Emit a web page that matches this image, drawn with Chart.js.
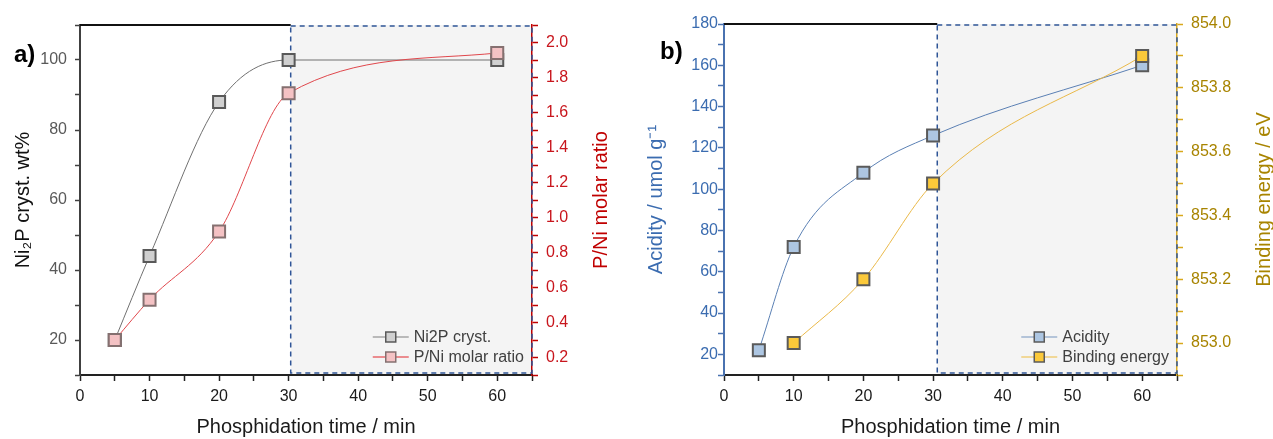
<!DOCTYPE html>
<html>
<head>
<meta charset="utf-8">
<script src="https://cdn.jsdelivr.net/npm/chart.js@4.4.1/dist/chart.umd.min.js"></script>
<style>
  html, body { margin: 0; padding: 0; background: #fff; }
  #wrap { position: relative; width: 1273px; height: 439px; }
  .box { position: absolute; top: 0; height: 439px; }
  #boxA { left: 0; width: 636px; }
  #boxB { left: 636px; width: 637px; }
</style>
</head>
<body>
<div id="wrap">
  <div class="box" id="boxA"><canvas id="chartA"></canvas></div>
  <div class="box" id="boxB"><canvas id="chartB"></canvas></div>
</div>
<script>
// panel a)
const ni2pTime = [5, 10, 20, 30, 60];
const ni2pCryst = [20, 44, 88, 100, 100];
const pniTime = [5, 10, 20, 30, 60];
const pniRatio = [0.30, 0.53, 0.92, 1.71, 1.94];

// panel b)
const acidTime = [5, 10, 20, 30, 60];
const acidity = [22, 72, 108, 126, 160];
const beTime = [10, 20, 30, 60];
const bindingEnergy = [853.0, 853.2, 853.5, 853.9];

const xTickLabels = [0, 10, 20, 30, 40, 50, 60];

const FONT = '"Liberation Sans", Arial, sans-serif';
const toPts = (xs, ys) => xs.map((x, i) => ({ x: x, y: ys[i] }));

// shaded region, frame, legend, panel letter, right-hand axis title
const decoPlugin = {
    id: 'deco',
    beforeDraw(chart, args, o) {
        const { ctx, chartArea: a } = chart;
        const x0 = chart.scales.x.getPixelForValue(o.from);
        ctx.save();
        ctx.fillStyle = '#f4f4f4';
        ctx.fillRect(x0, a.top, a.right - x0, a.bottom - a.top);
        ctx.restore();
    },
    beforeDatasetsDraw(chart, args, o) {
        const { ctx, chartArea: a } = chart;
        const x0 = chart.scales.x.getPixelForValue(o.from);
        ctx.save();
        ctx.strokeStyle = '#111';
        ctx.lineWidth = 2;
        ctx.beginPath();
        ctx.moveTo(a.left, a.top);
        ctx.lineTo(x0, a.top);
        ctx.stroke();
        ctx.strokeStyle = '#2f5597';
        ctx.lineWidth = 1.5;
        ctx.setLineDash([5, 4]);
        ctx.strokeRect(x0, a.top + 1, a.right - x0, a.bottom - a.top - 3);
        ctx.restore();
    },
    afterDraw(chart, args, o) {
        const { ctx, chartArea: a } = chart;
        ctx.save();
        // panel letter
        ctx.fillStyle = '#000';
        ctx.font = 'bold 24px ' + FONT;
        ctx.textAlign = 'left';
        ctx.textBaseline = 'middle';
        ctx.fillText(o.letter, o.letterX, o.letterY);

        // right axis title, reading bottom to top
        ctx.translate(o.titleX, (a.top + a.bottom) / 2);
        ctx.rotate(-Math.PI / 2);
        ctx.textAlign = 'center';
        ctx.fillStyle = o.titleColor;
        ctx.font = '20px ' + FONT;
        ctx.fillText(o.title, 0, 0);
        ctx.restore();

        // legend
        ctx.save();
        ctx.font = '16px ' + FONT;
        const sets = chart.data.datasets;
        const w = Math.max(...sets.map(d => ctx.measureText(d.label).width));
        const tx = a.right - 8 - w;
        sets.forEach((d, i) => {
            const y = a.bottom - 38 + i * 20;
            ctx.strokeStyle = d.legendLine;
            ctx.lineWidth = 1.5;
            ctx.beginPath();
            ctx.moveTo(tx - 41, y);
            ctx.lineTo(tx - 5, y);
            ctx.stroke();
            ctx.fillStyle = d.pointBackgroundColor;
            ctx.fillRect(tx - 28, y - 5, 10, 10);
            ctx.strokeStyle = d.pointBorderColor;
            ctx.strokeRect(tx - 28, y - 5, 10, 10);
            ctx.fillStyle = '#404040';
            ctx.textAlign = 'left';
            ctx.textBaseline = 'middle';
            ctx.fillText(d.label, tx, y + 1);
        });
        ctx.restore();
    }
};

function xScale() {
    return {
        type: 'linear', min: 0, max: 65,
        ticks: {
            stepSize: 5, autoSkip: false, maxRotation: 0, padding: 6, color: '#1a1a1a',
            font: { size: 16, family: FONT },
            callback: v => xTickLabels.includes(v) ? String(v) : ''
        },
        grid: { drawOnChartArea: false, tickLength: 6, color: '#222', tickWidth: 1.5 },
        border: { color: '#222', width: 2 },
        title: { display: true, text: 'Phosphidation time / min', color: '#1a1a1a', font: { size: 20, family: FONT }, padding: 0 },
        afterFit: s => { s.height = 64; }
    };
}

function evenTenths(v) {
    const k = Math.round(v * 10);
    return k % 2 === 0 ? (k / 10).toFixed(1) : '';
}

const pointBase = { pointStyle: 'rect', pointRadius: 8.5, pointHoverRadius: 8.5, pointBorderWidth: 2, borderWidth: 1, cubicInterpolationMode: 'monotone' };

new Chart(document.getElementById('chartA'), {
    type: 'line',
    data: {
        datasets: [
            Object.assign({
                label: 'Ni2P cryst.', data: toPts(ni2pTime, ni2pCryst), yAxisID: 'y', order: 1,
                borderColor: '#707070', pointBackgroundColor: '#d0d0d0', pointBorderColor: '#595959', legendLine: '#a6a6a6'
            }, pointBase),
            Object.assign({
                label: 'P/Ni molar ratio', data: toPts(pniTime, pniRatio), yAxisID: 'y1', order: 0,
                borderColor: '#e0474c', pointBackgroundColor: '#f4c2c4', pointBorderColor: '#857070', legendLine: '#e86a6e'
            }, pointBase)
        ]
    },
    options: {
        responsive: true, maintainAspectRatio: false, animation: false,
        layout: { padding: { top: 25, left: 0, right: 0, bottom: 0 } },
        plugins: {
            legend: { display: false }, tooltip: { enabled: false },
            deco: { from: 30.3, letter: 'a)', letterX: 14, letterY: 55, title: 'P/Ni molar ratio', titleColor: '#c00000', titleX: 601 }
        },
        scales: {
            x: xScale(),
            y: {
                type: 'linear', position: 'left', min: 10, max: 110,
                ticks: { stepSize: 10, autoSkip: false, padding: 8, color: '#595959', font: { size: 16, family: FONT }, callback: v => v % 20 === 0 && v <= 100 ? String(v) : '' },
                grid: { drawOnChartArea: false, tickLength: 5, color: '#404040', tickWidth: 1.5 },
                border: { color: '#404040', width: 2 },
                title: { display: true, text: 'Ni₂P cryst. wt%', color: '#111', font: { size: 20, family: FONT }, padding: { top: 11, bottom: 0 } },
                afterFit: s => { s.width = 80; }
            },
            y1: {
                type: 'linear', position: 'right', min: 0.1, max: 2.1,
                ticks: { stepSize: 0.1, autoSkip: false, padding: 8, color: '#c8161d', font: { size: 16, family: FONT }, callback: evenTenths },
                grid: { drawOnChartArea: false, tickLength: 6, color: '#c00000', tickWidth: 1.5 },
                border: { color: '#c00000', width: 1.5 },
                afterFit: s => { s.width = 104; }
            }
        }
    },
    plugins: [decoPlugin]
});

new Chart(document.getElementById('chartB'), {
    type: 'line',
    data: {
        datasets: [
            Object.assign({
                label: 'Acidity', data: toPts(acidTime, acidity), yAxisID: 'y', order: 1,
                borderColor: '#5b80b4', pointBackgroundColor: '#adc6e2', pointBorderColor: '#5a5a5a', legendLine: '#9fb4d0'
            }, pointBase),
            Object.assign({
                label: 'Binding energy', data: toPts(beTime, bindingEnergy), yAxisID: 'y1', order: 0,
                borderColor: '#eab949', pointBackgroundColor: '#fbc93a', pointBorderColor: '#5a5a5a', legendLine: '#f0cf7a'
            }, pointBase)
        ]
    },
    options: {
        responsive: true, maintainAspectRatio: false, animation: false,
        layout: { padding: { top: 24, left: 0, right: 0, bottom: 0 } },
        plugins: {
            legend: { display: false }, tooltip: { enabled: false },
            deco: { from: 30.6, letter: 'b)', letterX: 24, letterY: 52, title: 'Binding energy / eV', titleColor: '#a88400', titleX: 628 }
        },
        scales: {
            x: xScale(),
            y: {
                type: 'linear', position: 'left', min: 10, max: 180,
                ticks: { stepSize: 10, autoSkip: false, padding: 0, color: '#3b6cb0', font: { size: 16, family: FONT }, callback: v => v % 20 === 0 ? String(v) : '' },
                grid: { drawOnChartArea: false, tickLength: 6, color: '#4a72b0', tickWidth: 1.5 },
                border: { color: '#4a72b0', width: 2 },
                title: { display: true, text: 'Acidity / umol g⁻¹', color: '#3b6cb0', font: { size: 20, family: FONT }, padding: { top: 8, bottom: 0 } },
                afterFit: s => { s.width = 88; }
            },
            y1: {
                type: 'linear', position: 'right', min: 852.9, max: 854.0,
                ticks: { stepSize: 0.1, autoSkip: false, padding: 8, color: '#a88400', font: { size: 16, family: FONT }, callback: evenTenths },
                grid: { drawOnChartArea: false, tickLength: 6, color: '#d9a81c', tickWidth: 1.5 },
                border: { color: '#d9a81c', width: 1.5 },
                afterFit: s => { s.width = 96; }
            }
        }
    },
    plugins: [decoPlugin]
});
</script>
</body>
</html>
